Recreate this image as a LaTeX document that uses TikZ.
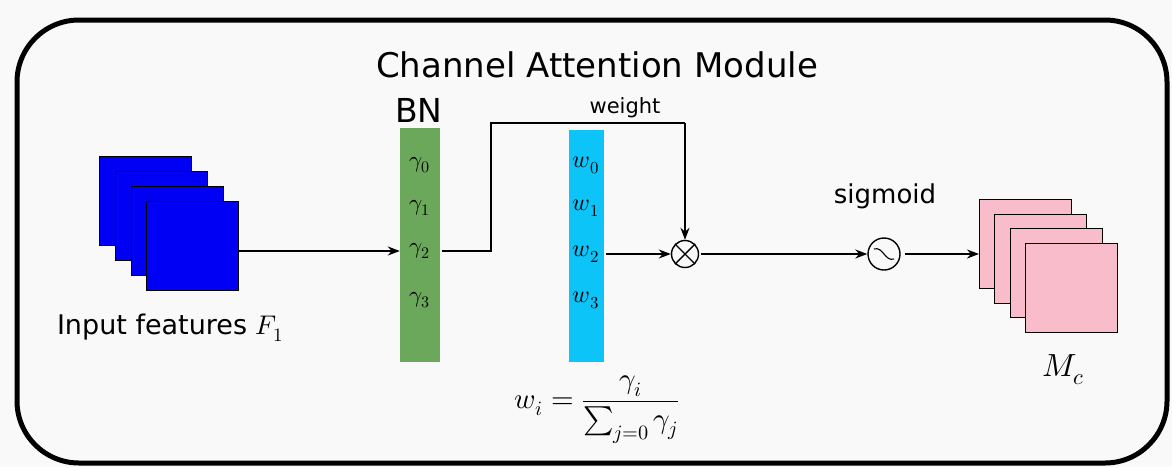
\documentclass[tikz,border=0pt]{standalone}
\usepackage{fontspec}
\usepackage{unicode-math}
\setmainfont{DejaVu Sans}
\setmathfont{Latin Modern Math}
\usetikzlibrary{arrows.meta,calc}
\definecolor{bgc}{HTML}{F9F9F9}
\definecolor{fmblue}{HTML}{0000F5}
\definecolor{bngreen}{HTML}{6BA85C}
\definecolor{wcyan}{HTML}{0CC4F7}
\definecolor{mcpink}{HTML}{F8BCCA}
\begin{document}
\begin{tikzpicture}[x=1pt,y=-1pt,
  conn/.style={line width=1.6pt,-{Stealth[length=12pt,width=9pt]}},
  plain/.style={line width=1.6pt},
  fmap/.style={draw=black,line width=1.3pt,minimum width=92pt,minimum height=89pt,inner sep=0pt,anchor=north west},
  bluemap/.style={fmap,fill=fmblue},
  pinkmap/.style={fmap,fill=mcpink},
  bar/.style={inner sep=0pt,minimum height=234pt},
  gl/.style={font=\fontsize{23}{26}\selectfont},
  wl/.style={font=\fontsize{24}{28}\selectfont},
  op/.style={circle,draw=black,line width=1.4pt,inner sep=0pt},
]
\useasboundingbox (0,0) rectangle (1172,467);
\fill[bgc] (0,0) rectangle (1172,467);
\draw[line width=5pt,rounded corners=62pt] (17,20) rectangle (1167,463);

\node[font=\fontsize{34}{40}\selectfont] (title) at (597,65) {Channel Attention Module};

% input feature maps
\node[bluemap] (f1) at (99,156) {};
\node[bluemap] (f2) at (115,171) {};
\node[bluemap] (f3) at (131,186) {};
\node[bluemap] (f4) at (146,201) {};
\node[font=\fontsize{27}{32}\selectfont] (inlab) at (170,328) {Input features $F_1$};

% BN bar
\node[bar,fill=bngreen,minimum width=40pt] (bn) at (420,245) {};
\node[font=\fontsize{33}{38}\selectfont] (bnlab) at (419,110) {BN};
\node[gl] (g0) at (420,165) {$\gamma_0$};
\node[gl] (g1) at (420,208) {$\gamma_1$};
\node[gl] (g2) at (420,251) {$\gamma_2$};
\node[gl] (g3) at (420,300) {$\gamma_3$};

% weight bar
\node[bar,fill=wcyan,minimum width=35pt,minimum height=232pt] (wb) at (586.5,246) {};
\node[wl] (w0) at (586,165) {$w_0$};
\node[wl] (w1) at (586,208) {$w_1$};
\node[wl] (w2) at (586,254) {$w_2$};
\node[wl] (w3) at (586,300) {$w_3$};

\node[font=\fontsize{29}{34}\selectfont] (formula) at (597,410)
  {$w_i=\displaystyle\frac{\gamma_i}{\sum_{j=0}\gamma_j}$};

% multiply and sigmoid
\node[op,minimum size=27pt] (mult) at (685,254) {};
\draw[line width=1.4pt] (mult.north west) -- (mult.south east)
  (mult.north east) -- (mult.south west);
\node[op,minimum size=32pt] (sig) at (884,254) {};
\draw[line width=1.1pt] ($(sig.center)+(-10,-5)$) .. controls ($(sig.center)+(-1,-8)$) and ($(sig.center)+(1,8)$) .. ($(sig.center)+(10,5)$);
\node[font=\fontsize{26}{30}\selectfont] (siglab) at (885,196) {sigmoid};
\node[font=\fontsize{21}{24}\selectfont] (wlab) at (625,108) {weight};

% output maps
\node[pinkmap] (p1) at (979,199) {};
\node[pinkmap] (p2) at (994,214) {};
\node[pinkmap] (p3) at (1010,228) {};
\node[pinkmap] (p4) at (1025,243) {};
\node[font=\fontsize{32}{36}\selectfont] (mclab) at (1063,370) {$M_c$};

% connectors
\coordinate (wc1) at (491,123);
\coordinate (wc2) at (685,123);
\draw[conn] (f4.east |- g2) -- (bn.west |- g2);
\draw[plain] ($(bn.east |- g2)+(2,0)$) -| (wc1) -- (wc2);
\draw[conn] (wc2) -- (mult.north);
\draw[conn] ($(wb.east |- mult)+(2,0)$) -- (mult.west);
\draw[conn] ($(mult.east)+(2,0)$) -- (sig.west);
\draw[conn] ($(sig.east)+(4,0)$) -- (p1.west |- sig);
\end{tikzpicture}
\end{document}
